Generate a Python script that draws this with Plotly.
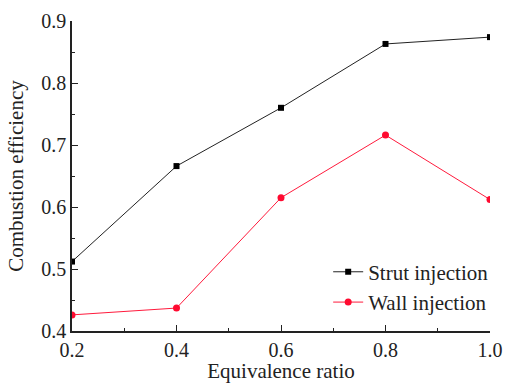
import plotly.graph_objects as go

phi = [0.2, 0.4, 0.6, 0.8, 1.0]
strut = [0.512, 0.666, 0.760, 0.863, 0.874]
wall = [0.426, 0.437, 0.615, 0.716, 0.612]
x_ticks = [0.2, 0.4, 0.6, 0.8, 1.0]
y_ticks = [0.4, 0.5, 0.6, 0.7, 0.8, 0.9]

font_family = "Liberation Serif, Times New Roman, serif"

fig = go.Figure()
fig.add_trace(go.Scatter(x=phi, y=strut, mode="lines+markers", name="Strut injection",
                         line=dict(color="#222222", width=1),
                         marker=dict(symbol="square", size=6, color="black")))
fig.add_trace(go.Scatter(x=phi, y=wall, mode="lines+markers", name="Wall injection",
                         line=dict(color="#ff1a3c", width=1),
                         marker=dict(symbol="circle", size=7, color="#ff0a30")))

fig.update_layout(
    width=505, height=383,
    margin=dict(l=72, r=15, t=21, b=52, autoexpand=False),
    paper_bgcolor="white", plot_bgcolor="white",
    font=dict(family=font_family, size=20, color="#222222"),
    showlegend=True,
    legend=dict(x=1.01, y=0.027, xanchor="right", yanchor="bottom",
                bgcolor="rgba(0,0,0,0)", font=dict(size=21),
                itemwidth=30, tracegroupgap=0),
)
fig.update_xaxes(range=[0.2, 1.0], tickvals=x_ticks, ticktext=[f"{v:.1f}" for v in x_ticks],
                 showline=True, linecolor="#222222", linewidth=1.5, mirror=False,
                 ticks="inside", ticklen=6, tickcolor="#222222",
                 tickfont=dict(size=20), automargin=False, ticklabeloverflow="allow",
                 minor=dict(ticks="inside", ticklen=3, dtick=0.1, tickcolor="#222222"),
                 showgrid=False, zeroline=False,
                 title=dict(text="Equivalence ratio", standoff=0, font=dict(size=21)))
fig.update_yaxes(range=[0.4, 0.9], tickvals=y_ticks, ticktext=[f"{v:.1f}" for v in y_ticks],
                 showline=True, linecolor="#222222", linewidth=1.5, mirror=False,
                 ticks="inside", ticklen=6, tickcolor="#222222",
                 tickfont=dict(size=20), automargin=True, ticklabeloverflow="allow",
                 minor=dict(ticks="inside", ticklen=3, dtick=0.05, tickcolor="#222222"),
                 showgrid=False, zeroline=False,
                 title=dict(text="Combustion efficiency", standoff=12, font=dict(size=21)))

fig.write_html("out.html", config={"displayModeBar": False},
               post_script="document.body.style.margin='0';document.body.style.overflow='hidden';")
